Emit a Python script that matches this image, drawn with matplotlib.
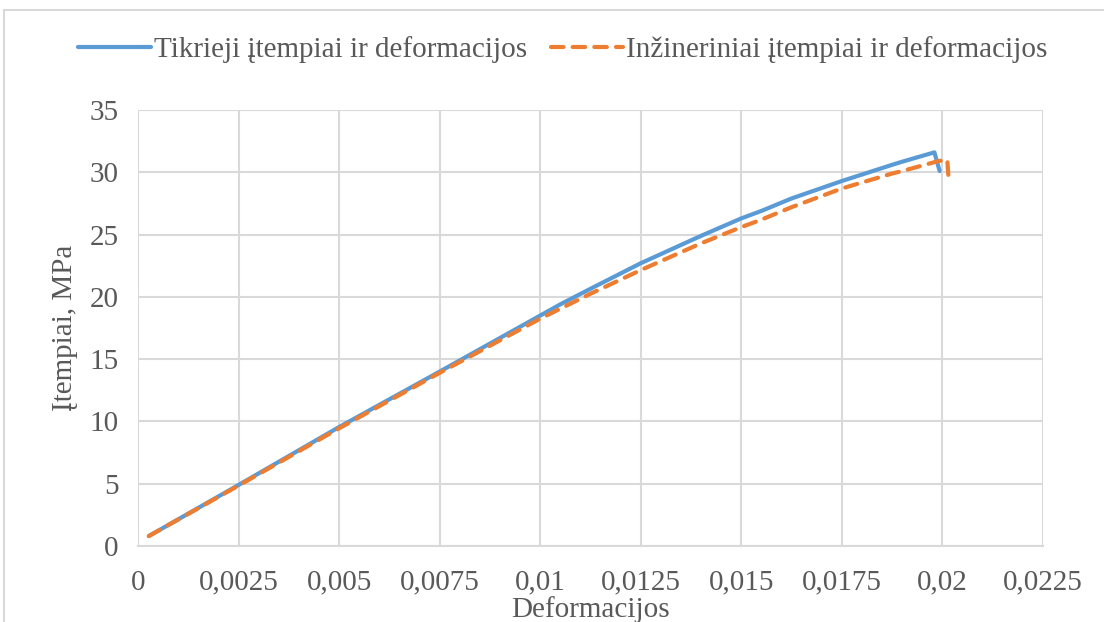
import matplotlib.pyplot as plt
from matplotlib.patches import Rectangle

# true stress-strain curve
true_strain = [0.00027, 0.0025, 0.005, 0.0075, 0.01, 0.0105, 0.01125, 0.0125,
               0.014, 0.015, 0.0155, 0.01625, 0.0175, 0.01875, 0.019, 0.0198,
               0.01993]
true_stress = [0.8, 4.9, 9.55, 14.0, 18.5, 19.4, 20.65, 22.7,
               24.9, 26.3, 26.9, 27.9, 29.3, 30.6, 30.85, 31.6,
               30.1]

# engineering stress-strain curve
eng_strain = [0.00027, 0.0025, 0.005, 0.0075, 0.01, 0.01125, 0.0125, 0.014,
              0.015, 0.0155, 0.01625, 0.0175, 0.01875, 0.019, 0.0199, 0.02012,
              0.02015]
eng_stress = [0.8, 4.85, 9.45, 13.9, 18.25, 20.25, 22.15, 24.3,
              25.6, 26.2, 27.2, 28.7, 29.9, 30.1, 30.9, 31.0,
              29.6]

xticks = [0, 0.0025, 0.005, 0.0075, 0.01, 0.0125, 0.015, 0.0175, 0.02, 0.0225]
xticklabels = ['0', '0,0025', '0,005', '0,0075', '0,01', '0,0125', '0,015',
               '0,0175', '0,02', '0,0225']
yticks = [0, 5, 10, 15, 20, 25, 30, 35]

plt.rcParams['font.family'] = ['Liberation Serif', 'DejaVu Serif']
grey = '#595959'
fs = 21

fig = plt.figure(figsize=(11.04, 6.22), dpi=100)
fig.patches.append(Rectangle((4 / 1104, -0.1), 1.2, (622 - 10) / 622 + 0.1,
                             transform=fig.transFigure, fill=False,
                             edgecolor='#D9D9D9', lw=1.5))
ax = fig.add_axes([138 / 1104, 1 - 546 / 622, (1043 - 138) / 1104, (546 - 110) / 622])

ax.plot(true_strain, true_stress, color='#5B9BD5', lw=3, solid_capstyle='round',
        solid_joinstyle='round', label='Tikrieji įtempiai ir deformacijos', zorder=3)
ax.plot(eng_strain, eng_stress, color='#ED7D31', lw=3, dashes=(3, 2.2),
        dash_capstyle='round', dash_joinstyle='round',
        label='Inžineriniai įtempiai ir deformacijos', zorder=4)

ax.set_xlim(0, 0.0225)
ax.set_ylim(0, 35)
ax.set_xticks(xticks)
ax.set_xticklabels(xticklabels)
ax.set_yticks(yticks)
ax.tick_params(length=0, labelsize=fs, labelcolor=grey)
ax.tick_params(axis='x', pad=17)
ax.tick_params(axis='y', pad=14)
ax.grid(True, color='#D9D9D9', lw=1.5)
ax.set_axisbelow(True)
for s in ['top', 'right', 'left']:
    ax.spines[s].set_visible(False)
ax.spines['bottom'].set_color('#D9D9D9')
ax.spines['bottom'].set_linewidth(1.5)

ax.set_xlabel('Deformacijos', fontsize=fs, color=grey)
ax.xaxis.set_label_coords(0.5, -(596 - 546) / 436)
ax.set_ylabel('Įtempiai, MPa', fontsize=fs, color=grey, labelpad=8)

fig.legend(loc='center', bbox_to_anchor=(0.51, 1 - 50 / 622), ncol=2, frameon=False,
           fontsize=fs, labelcolor=grey, handlelength=2.5, handletextpad=0.1,
           columnspacing=0.8)

fig.savefig('out.png', dpi=100)
